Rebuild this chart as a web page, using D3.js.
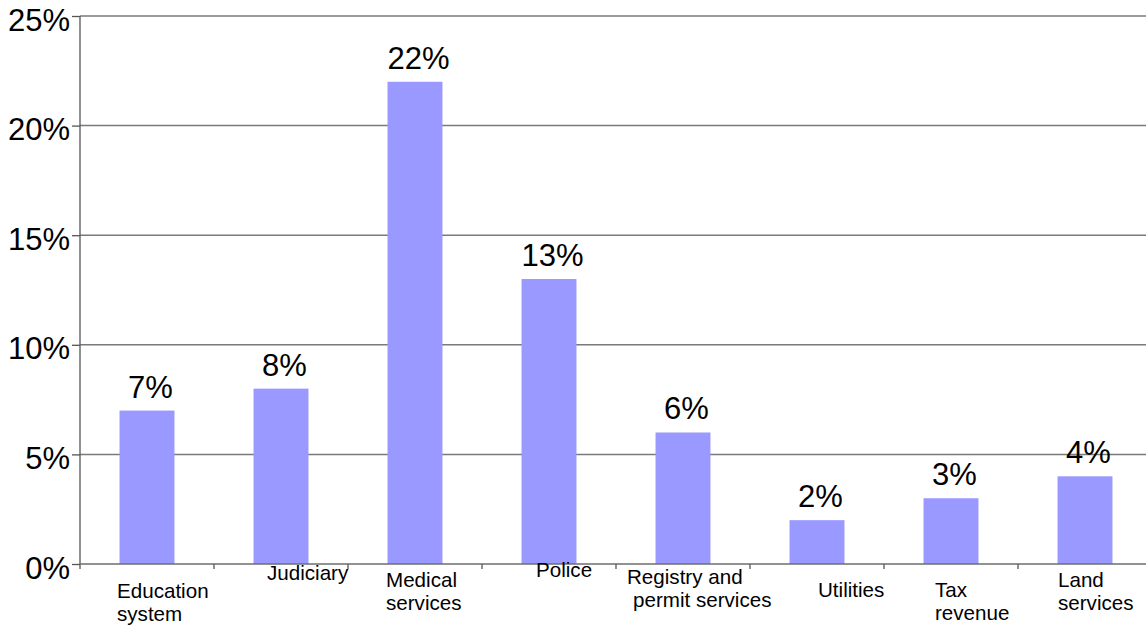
<!DOCTYPE html>
<html lang="en">

<head>
  <meta charset="utf-8">
  <style>
    body {
      margin: 0;
      padding: 0;
      background: #fff;
      font-family: "Liberation Sans", Arial, Helvetica, sans-serif;
    }

    svg {
      display: block;
      overflow: hidden;
    }
  </style>
</head>

<body>
  <svg width="1146" height="628"></svg>
  <script src="https://d3js.org/d3.v7.min.js"></script>
  <script>
    // data
    var categories = ["Education system", "Judiciary", "Medical services", "Police",
      "Registry and permit services", "Utilities", "Tax revenue", "Land services"];
    var labelLines = [["Education", "system"], ["Judiciary"], ["Medical", "services"], ["Police"],
      ["Registry and", "permit services"], ["Utilities"], ["Tax", "revenue"], ["Land", "services"]];
    var shares = [0.07, 0.08, 0.22, 0.13, 0.06, 0.02, 0.03, 0.04];
    var yTicks = [0, 0.05, 0.10, 0.15, 0.20, 0.25];

    // category labels sit oddly in the original, keep their offsets here (px from band start / baseline)
    var labelDx = [37, 53, 38, 54, 11, 68, 51, 40];
    var labelDx2 = [0, 0, 0, 0, 6, 0, 0, 0];
    var labelBase = [598, 580, 587, 577, 584, 597, 597, 587];

    var svg = d3.select("svg"),
      margin = { top: 16, left: 80, bottom: 64 },
      height = +svg.attr("height");

    var x = d3.scaleBand()
      .domain(categories)
      .range([margin.left, margin.left + 134 * categories.length])
      .padding(0);

    var y = d3.scaleLinear()
      .domain([0, 0.25])
      .range([height - margin.bottom, margin.top]);

    var barW = x.bandwidth() * 0.41;

    // gridlines
    svg.append("g")
      .selectAll("line")
      .data(yTicks.slice(1))
      .enter().append("line")
      .attr("x1", margin.left)
      .attr("x2", 1146)
      .attr("y1", function(d) { return y(d); })
      .attr("y2", function(d) { return y(d); })
      .attr("stroke", "#7a7a7a")
      .attr("stroke-width", 1.5);

    // bars
    svg.append("g")
      .selectAll("rect")
      .data(shares)
      .enter().append("rect")
      .attr("x", function(d, i) { return x(categories[i]) + (x.bandwidth() - barW) / 2; })
      .attr("y", function(d) { return y(d); })
      .attr("width", barW)
      .attr("height", function(d) { return y(0) - y(d); })
      .attr("fill", "#9999ff");

    // value labels
    svg.append("g")
      .selectAll("text")
      .data(shares)
      .enter().append("text")
      .attr("x", function(d, i) { return x(categories[i]) + x.bandwidth() / 2 + 3.5; })
      .attr("y", function(d) { return y(d) - 13; })
      .attr("text-anchor", "middle")
      .style("font-size", "31px")
      .attr("fill", "#000")
      .text(d3.format(".0%"));

    // y axis
    var yAxis = svg.append("g")
      .attr("transform", "translate(" + margin.left + ",0)")
      .call(d3.axisLeft(y).tickValues(yTicks).tickFormat(d3.format(".0%")).tickSize(8).tickPadding(2));
    yAxis.select(".domain").remove();
    yAxis.selectAll(".tick line").attr("stroke", "#555").attr("stroke-width", 1.3);
    yAxis.selectAll("text")
      .attr("dy", null)
      .attr("y", 14)
      .style("font-size", "31px")
      .style("font-family", "'Liberation Sans', Arial, sans-serif")
      .attr("fill", "#000");
    yAxis.append("line")
      .attr("y1", y(0.25))
      .attr("y2", y(0) + 5)
      .attr("stroke", "#555")
      .attr("stroke-width", 1.3);

    // x axis: ticks at band edges
    var edges = categories.map(function(c) { return x(c); });
    svg.append("line")
      .attr("x1", margin.left)
      .attr("x2", 1146)
      .attr("y1", y(0))
      .attr("y2", y(0))
      .attr("stroke", "#6e6e6e")
      .attr("stroke-width", 1.5);
    svg.append("g")
      .selectAll("line")
      .data(edges.slice(1))
      .enter().append("line")
      .attr("x1", function(d) { return d; })
      .attr("x2", function(d) { return d; })
      .attr("y1", y(0))
      .attr("y2", y(0) + 5)
      .attr("stroke", "#555")
      .attr("stroke-width", 1.3);

    // category labels
    var labels = svg.append("g")
      .selectAll("text")
      .data(categories)
      .enter().append("text")
      .style("font-size", "20.6px")
      .attr("fill", "#000");
    labels.each(function(c, i) {
      var t = d3.select(this);
      labelLines[i].forEach(function(line, k) {
        t.append("tspan")
          .attr("x", x(c) + labelDx[i] + (k > 0 ? labelDx2[i] : 0))
          .attr("y", labelBase[i] + k * 23)
          .text(line);
      });
    });
  </script>
</body>

</html>
